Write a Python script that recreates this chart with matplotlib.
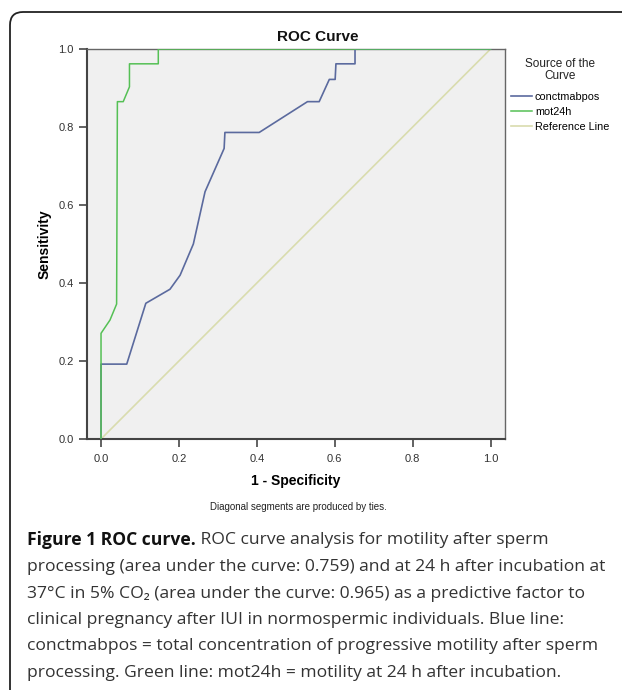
import matplotlib

matplotlib.use("Agg")
import matplotlib.pyplot as plt
from matplotlib.patches import FancyBboxPatch

# ROC points (1 - specificity, sensitivity)
conct_fpr = [0.0, 0.0, 0.066, 0.115, 0.177, 0.203, 0.237, 0.267, 0.316, 0.318,
             0.406, 0.530, 0.560, 0.586, 0.601, 0.603, 0.652, 0.652, 1.0]
conct_tpr = [0.0, 0.192, 0.192, 0.348, 0.384, 0.420, 0.500, 0.634, 0.745, 0.786,
             0.786, 0.865, 0.865, 0.922, 0.922, 0.962, 0.962, 1.0, 1.0]
mot_fpr = [0.0, 0.0, 0.023, 0.040, 0.042, 0.057, 0.073, 0.073, 0.147, 0.147, 1.0]
mot_tpr = [0.0, 0.271, 0.305, 0.346, 0.865, 0.865, 0.903, 0.962, 0.962, 1.0, 1.0]
ref_x = [0.0, 1.0]
ref_y = [0.0, 1.0]

series_labels = ["conctmabpos", "mot24h", "Reference Line"]
xticks = [0.0, 0.2, 0.4, 0.6, 0.8, 1.0]
yticks = [0.0, 0.2, 0.4, 0.6, 0.8, 1.0]

caption_bold = "Figure 1 ROC curve."
caption_lines = [
    " ROC curve analysis for motility after sperm",
    "processing (area under the curve: 0.759) and at 24 h after incubation at",
    "37°C in 5% CO\u2082 (area under the curve: 0.965) as a predictive factor to",
    "clinical pregnancy after IUI in normospermic individuals. Blue line:",
    "conctmabpos = total concentration of progressive motility after sperm",
    "processing. Green line: mot24h = motility at 24 h after incubation.",
]

W, H, DPI = 622, 690, 100
fig = plt.figure(figsize=(W / DPI, H / DPI), dpi=DPI)
fig.patch.set_facecolor("white")

# rounded frame around the figure panel (open to right/bottom edges)
frame = FancyBboxPatch((10 / DPI, -0.5), 7.0, (H - 12) / DPI + 0.5,
                       boxstyle="round,pad=0,rounding_size=0.13",
                       transform=fig.dpi_scale_trans, facecolor="none",
                       edgecolor="#222222", linewidth=1.3)
fig.add_artist(frame)

ax = fig.add_axes([87 / W, 1 - 439 / H, 418 / W, 390 / H])
ax.set_facecolor("#f0f0f0")
chart_font = ["Liberation Sans", "DejaVu Sans"]

ax.plot(ref_x, ref_y, color="#d9dcae", linewidth=1.2, label=series_labels[2], zorder=2)
ax.plot(conct_fpr, conct_tpr, color="#5b6a9e", linewidth=1.2, label=series_labels[0], zorder=3)
ax.plot(mot_fpr, mot_tpr, color="#55c055", linewidth=1.1, label=series_labels[1], zorder=4)

ax.set_xlim(-0.036, 1.037)
ax.set_ylim(0.0, 1.0)
ax.set_xticks(xticks)
ax.set_yticks(yticks)
ax.set_xticklabels([f"{v:.1f}" for v in xticks], family=chart_font)
ax.set_yticklabels([f"{v:.1f}" for v in yticks], family=chart_font)
ax.tick_params(direction="out", length=6, width=1.3, color="#555555",
               labelsize=8, labelcolor="#333333")
ax.tick_params(axis="x", pad=5)
ax.tick_params(axis="y", pad=3.5)
for side in ["left", "bottom"]:
    ax.spines[side].set_color("#444444")
    ax.spines[side].set_linewidth(1.5)
for side in ["top", "right"]:
    ax.spines[side].set_color("#666666")
    ax.spines[side].set_linewidth(1.0)

ax.set_xlabel("1 - Specificity", family=chart_font, fontsize=10, fontweight="bold",
              labelpad=7)
ax.set_ylabel("Sensitivity", family=chart_font, fontsize=10, fontweight="bold",
              labelpad=5)
fig.text(318 / W, 1 - 37 / H, "ROC Curve", family=chart_font, fontsize=11,
         fontweight="bold", ha="center", va="center", color="#111111")
fig.text(298 / W, 1 - 507 / H, "Diagonal segments are produced by ties.",
         family=chart_font, fontsize=7, ha="center", va="center", color="#222222")

# legend: title as its own text so the gap above the entries matches
fig.text(560 / W, 1 - 70 / H, "Source of the\nCurve", family=chart_font,
         fontsize=8.5, ha="center", va="center", multialignment="center",
         linespacing=1.05, color="#222222")
handles, labels = ax.get_legend_handles_labels()
order = [labels.index(name) for name in series_labels]
fig.legend([handles[i] for i in order], [labels[i] for i in order],
           loc="upper left", bbox_to_anchor=(511 / W, 1 - 92 / H),
           frameon=False, handlelength=1.9, handletextpad=0.3,
           labelspacing=0.45, borderpad=0, borderaxespad=0,
           prop={"family": chart_font, "size": 7.8})

# caption
cap_font = ["Open Sans", "DejaVu Sans"]
cap_size = 12.6
line_y = [540, 567, 593.5, 620, 646.5, 673]
bold = fig.text(27 / W, 1 - line_y[0] / H, caption_bold, family=cap_font,
                fontsize=cap_size, fontweight="bold", ha="left", va="center",
                color="#111111")
fig.canvas.draw()
bb = bold.get_window_extent(renderer=fig.canvas.get_renderer())
fig.text(bb.x1 / W, 1 - line_y[0] / H, caption_lines[0], family=cap_font,
         fontsize=cap_size, ha="left", va="center", color="#333333")
for text, y in zip(caption_lines[1:], line_y[1:]):
    fig.text(27 / W, 1 - y / H, text, family=cap_font, fontsize=cap_size,
             ha="left", va="center", color="#333333")

fig.savefig("out.png", dpi=DPI)
plt.close(fig)
